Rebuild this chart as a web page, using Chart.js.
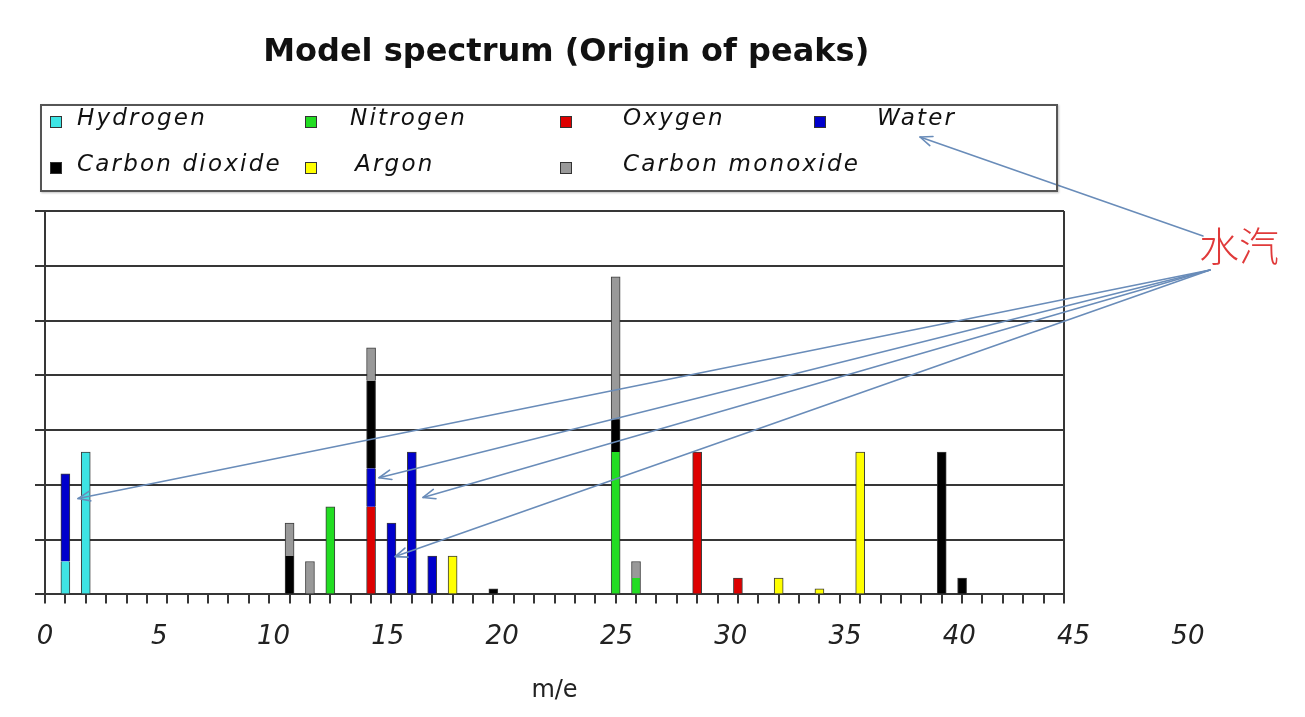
<!DOCTYPE html>
<html>
<head>
<meta charset="utf-8">
<script src="https://cdn.jsdelivr.net/npm/chart.js@4"></script>
<style>
html,body{margin:0;padding:0;background:#fff;}
#wrap{position:relative;width:1305px;height:717px;overflow:hidden;}
#c{position:absolute;left:0;top:0;}
#legend{position:absolute;left:40px;top:104px;width:1014px;height:84px;border:2px solid #555;box-shadow:1px 1px 2px rgba(0,0,0,0.25);}
.li{position:absolute;font:italic 23px "DejaVu Sans";letter-spacing:2.2px;color:#111;white-space:nowrap;line-height:26px;}
.sw{position:absolute;width:10px;height:10px;border:1px solid #333;}
#note{position:absolute;left:1199px;top:224px;font:300 40px "Noto Sans CJK SC";color:#e03a3a;line-height:40px;white-space:nowrap;}
</style>
</head>
<body>
<div id="wrap">
  <canvas id="c" width="1305" height="717"></canvas>
  <div id="legend"></div>
  <div id="note">水汽</div>
</div>
<script>
// ---- data ----
const _ = null;
const mz        = [1,  2,  12, 13, 14, 16, 17, 18, 19, 20, 22, 28, 29, 32, 34, 36, 38, 40, 44, 45];
const hydrogen  = [0.6,2.6,_,  _,  _,  _,  _,  _,  _,  _,  _,  _,  _,  _,  _,  _,  _,  _,  _,  _ ];
const nitrogen  = [_,  _,  _,  _,  1.6,_,  _,  _,  _,  _,  _,  2.6,0.3,_,  _,  _,  _,  _,  _,  _ ];
const oxygen    = [_,  _,  _,  _,  _,  1.6,_,  _,  _,  _,  _,  _,  _,  2.6,0.3,_,  _,  _,  _,  _ ];
const water     = [1.6,_,  _,  _,  _,  0.7,1.3,2.6,0.7,_,  _,  _,  _,  _,  _,  _,  _,  _,  _,  _ ];
const co2       = [_,  _,  0.7,_,  _,  1.6,_,  _,  _,  _,  0.1,0.6,_,  _,  _,  _,  _,  _,  2.6,0.3];
const argon     = [_,  _,  _,  _,  _,  _,  _,  _,  _,  0.7,_,  _,  _,  _,  _,  0.3,0.1,2.6,_,  _ ];
const co        = [_,  _,  0.6,0.6,_,  0.6,_,  _,  _,  _,  _,  2.6,0.3,_,  _,  _,  _,  _,  _,  _ ];

const seriesNames = ['Hydrogen','Nitrogen','Oxygen','Water','Carbon dioxide','Argon','Carbon monoxide'];
const seriesData  = [hydrogen, nitrogen, oxygen, water, co2, argon, co];

const xTickLabels = ['0','5','10','15','20','25','30','35','40','45','50'];
const xTickValues = [0,5,10,15,20,25,30,35,40,45,50];
const xMinorTicks = Array.from({length:51},(v,i)=>i);
const yTickValues = [0,1,2,3,4,5,6,7];

// ---- style ----
const seriesColors = ['#3ee4e4','#22dd22','#dd0000','#0000cc','#000000','#ffff00','#999999'];
const gridColor = '#363636';
const arrowColor = 'rgb(105,140,185)';
const legendSlots = [ // [square left, square top, text left, text top] in page px
  [50,116,77,104],[305,116,350,104],[560,116,623,104],[814,116,877,104],
  [50,162,77,150],[305,162,355,150],[560,162,623,150]
];
const waterArrowTargets = [[1.62,1.75],[16.39,2.13],[18.55,1.77],[17.18,0.69]];
const noteFromLegend = [1203,236];
const noteFromBars = [1210,270];
const legendArrowTip = [920,137];

function isTop(d,i){
  for(let k=d+1;k<seriesData.length;k++){ if(seriesData[k][i]!=null) return false; }
  return true;
}

const datasets = seriesNames.map((name,d)=>({
  label: name,
  data: mz.map((m,i)=>({x:m, y:seriesData[d][i]})),
  backgroundColor: seriesColors[d],
  borderColor: 'rgba(40,40,40,0.9)',
  borderWidth: ctx => ({left:1,right:1,bottom:0,top: isTop(ctx.datasetIndex, ctx.dataIndex)?1:0}),
  borderSkipped: false,
  barThickness: 9
}));

function drawArrow(ctx, from, to){
  ctx.beginPath();
  ctx.moveTo(from[0],from[1]);
  ctx.lineTo(to[0],to[1]);
  ctx.stroke();
  const ang = Math.atan2(from[1]-to[1], from[0]-to[0]);
  const L = 13, a = 0.38;
  ctx.beginPath();
  ctx.moveTo(to[0]+L*Math.cos(ang+a), to[1]+L*Math.sin(ang+a));
  ctx.lineTo(to[0],to[1]);
  ctx.lineTo(to[0]+L*Math.cos(ang-a), to[1]+L*Math.sin(ang-a));
  ctx.stroke();
}

const arrowPlugin = {
  id:'arrows',
  afterDraw(chart){
    const {ctx} = chart; const x = chart.scales.x, y = chart.scales.y;
    ctx.save();
    ctx.strokeStyle = arrowColor; ctx.lineWidth = 1.6; ctx.lineCap='round'; ctx.lineJoin='round';
    drawArrow(ctx, noteFromLegend, legendArrowTip);
    waterArrowTargets.forEach(t=>drawArrow(ctx, noteFromBars, [x.getPixelForValue(t[0]), y.getPixelForValue(t[1])]));
    ctx.restore();
  }
};

const chart = new Chart(document.getElementById('c'), {
  type:'bar',
  data:{datasets},
  options:{
    responsive:false, animation:false,
    layout:{padding:{left:35,right:241,top:0,bottom:7.6}},
    plugins:{
      legend:{display:false},
      tooltip:{enabled:false},
      title:{display:true, text:'\u00a0\u00a0\u00a0Model spectrum (Origin of peaks)',
        font:{family:'DejaVu Sans',size:32,weight:'bold'}, color:'#111',
        padding:{top:33,bottom:139.6}}
    },
    scales:{
      x:{type:'linear', axis:'x', position:'bottom', weight:0, min:0, max:50, stacked:true, offset:false,
        afterBuildTicks:s=>{ s.ticks = xMinorTicks.map(v=>({value:v})); },
        ticks:{display:false},
        grid:{offset:false, color:c=>(c.tick && c.tick.value===50)?gridColor:'rgba(0,0,0,0)', tickColor:gridColor, lineWidth:2, tickLength:9, drawTicks:true},
        border:{display:true,color:gridColor,width:2}},
      xl:{type:'linear', axis:'x', position:'bottom', weight:1, min:0, max:44.58, offset:false,
        afterBuildTicks:s=>{ s.ticks = xTickValues.map(v=>({value:v})); },
        ticks:{autoSkip:false, maxRotation:0, minRotation:0, padding:18.5,
          font:{family:'DejaVu Sans',style:'italic',size:26}, color:'#222',
          callback:(v,i)=>xTickLabels[i]},
        grid:{display:false, drawTicks:false, tickLength:0},
        border:{display:false},
        title:{display:true,text:'m/e',font:{family:'DejaVu Sans',size:24},color:'#222',padding:{top:5,bottom:4}}},
      y:{min:0, max:7, stacked:true,
        afterBuildTicks:s=>{ s.ticks = yTickValues.map(v=>({value:v})); },
        ticks:{display:false},
        grid:{color:gridColor, lineWidth:2, tickLength:10},
        border:{display:true,color:gridColor,width:2}}
    }
  },
  plugins:[arrowPlugin]
});

// ---- HTML legend built from the chart's datasets ----
const lg = document.getElementById('legend');
chart.data.datasets.forEach((ds,i)=>{
  const s = legendSlots[i];
  const sq = document.createElement('div'); sq.className='sw';
  sq.style.left=(s[0]-42)+'px'; sq.style.top=(s[1]-106)+'px'; sq.style.background=ds.backgroundColor;
  const t = document.createElement('div'); t.className='li';
  t.style.left=(s[2]-42)+'px'; t.style.top=(s[3]-106)+'px'; t.textContent=ds.label;
  lg.appendChild(sq); lg.appendChild(t);
});
</script>
</body>
</html>
